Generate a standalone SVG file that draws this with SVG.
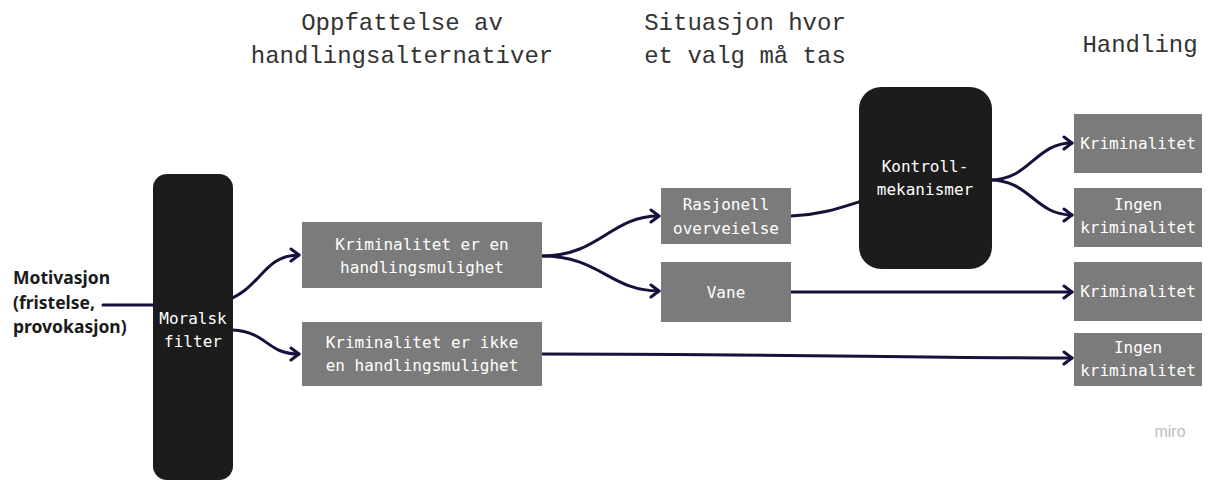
<svg xmlns="http://www.w3.org/2000/svg" width="1208" height="481" viewBox="0 0 1208 481">
<style>
.title{font-family:"Liberation Mono","DejaVu Sans Mono",monospace;font-size:24px;fill:#333;}
.box{fill:#7b7b7b;}
.dark{fill:#1c1c1c;}
.bt{font-family:"DejaVu Sans Mono","Liberation Mono",monospace;font-size:16px;fill:#fff;text-anchor:middle;}
.conn{fill:none;stroke:#15113d;stroke-width:3;stroke-linecap:round;}
.mot{font-family:"Noto Sans","Liberation Sans",sans-serif;font-size:17.5px;font-weight:bold;fill:#1a1a1a;}
</style>
<defs>
<marker id="arr" markerUnits="userSpaceOnUse" markerWidth="14" markerHeight="16" refX="11" refY="8" orient="auto">
<path d="M3 2 L11 8 L3 14" fill="none" stroke="#15113d" stroke-width="3" stroke-linecap="round" stroke-linejoin="round"/>
</marker>
</defs>
<rect width="1208" height="481" fill="#fff"/>
<g id="titles">
<text class="title" x="402" y="30" text-anchor="middle">Oppfattelse av</text>
<text class="title" x="402" y="63" text-anchor="middle">handlingsalternativer</text>
<text class="title" x="745" y="30" text-anchor="middle">Situasjon hvor</text>
<text class="title" x="745" y="63" text-anchor="middle">et valg må tas</text>
<text class="title" x="1140" y="52" text-anchor="middle">Handling</text>
</g>
<g id="connectors">
<path class="conn" d="M103 305 H153"/>
<path class="conn" d="M222 302 C262 290, 262 255, 299 255" marker-end="url(#arr)"/>
<path class="conn" d="M233 330 C268 332, 266 354, 299 354" marker-end="url(#arr)"/>
<path class="conn" d="M542 256 C600 256, 610 216, 659 216" marker-end="url(#arr)"/>
<path class="conn" d="M542 256 C600 256, 610 291, 659 291" marker-end="url(#arr)"/>
<path class="conn" d="M542 354 C800 354, 900 358, 1072 358" marker-end="url(#arr)"/>
<path class="conn" d="M791 216 C820 215, 840 208, 862 201"/>
<path class="conn" d="M791 292 H1072" marker-end="url(#arr)"/>
<path class="conn" d="M990 180 C1030 180, 1035 143, 1072 143" marker-end="url(#arr)"/>
<path class="conn" d="M990 180 C1030 180, 1035 215, 1072 215" marker-end="url(#arr)"/>
</g>
<g id="motivasjon">
<text class="mot" x="13" y="284">Motivasjon</text>
<text class="mot" x="13" y="309">(fristelse,</text>
<text class="mot" x="13" y="333">provokasjon)</text>
</g>
<g id="moralsk-filter">
<rect class="dark" x="153" y="174" width="80" height="306" rx="14"/>
<text class="bt" x="193" y="324">Moralsk</text>
<text class="bt" x="193" y="347">filter</text>
</g>
<g id="krim-mulighet">
<rect class="box" x="302" y="222" width="240" height="66"/>
<text class="bt" x="422" y="250">Kriminalitet er en</text>
<text class="bt" x="422" y="273">handlingsmulighet</text>
</g>
<g id="krim-ikke-mulighet">
<rect class="box" x="302" y="322" width="240" height="64"/>
<text class="bt" x="422" y="348">Kriminalitet er ikke</text>
<text class="bt" x="422" y="371">en handlingsmulighet</text>
</g>
<g id="rasjonell">
<rect class="box" x="661" y="188" width="130" height="56"/>
<text class="bt" x="726" y="210">Rasjonell</text>
<text class="bt" x="726" y="234">overveielse</text>
</g>
<g id="vane">
<rect class="box" x="661" y="262" width="130" height="60"/>
<text class="bt" x="726" y="298">Vane</text>
</g>
<g id="kontroll">
<rect class="dark" x="859" y="87" width="133" height="182" rx="22"/>
<text class="bt" x="925" y="172">Kontroll-</text>
<text class="bt" x="925" y="195">mekanismer</text>
</g>
<g id="res-krim-1">
<rect class="box" x="1074" y="114" width="128" height="59"/>
<text class="bt" x="1138" y="149">Kriminalitet</text>
</g>
<g id="res-ingen-1">
<rect class="box" x="1074" y="188" width="128" height="59"/>
<text class="bt" x="1138" y="210">Ingen</text>
<text class="bt" x="1138" y="233">kriminalitet</text>
</g>
<g id="res-krim-2">
<rect class="box" x="1074" y="262" width="128" height="59"/>
<text class="bt" x="1138" y="297">Kriminalitet</text>
</g>
<g id="res-ingen-2">
<rect class="box" x="1074" y="333" width="128" height="53"/>
<text class="bt" x="1138" y="353">Ingen</text>
<text class="bt" x="1138" y="376">kriminalitet</text>
</g>
<text x="1170" y="437" text-anchor="middle" font-family="Liberation Sans, sans-serif" font-size="16" fill="#bdbdbd">miro</text>
</svg>
